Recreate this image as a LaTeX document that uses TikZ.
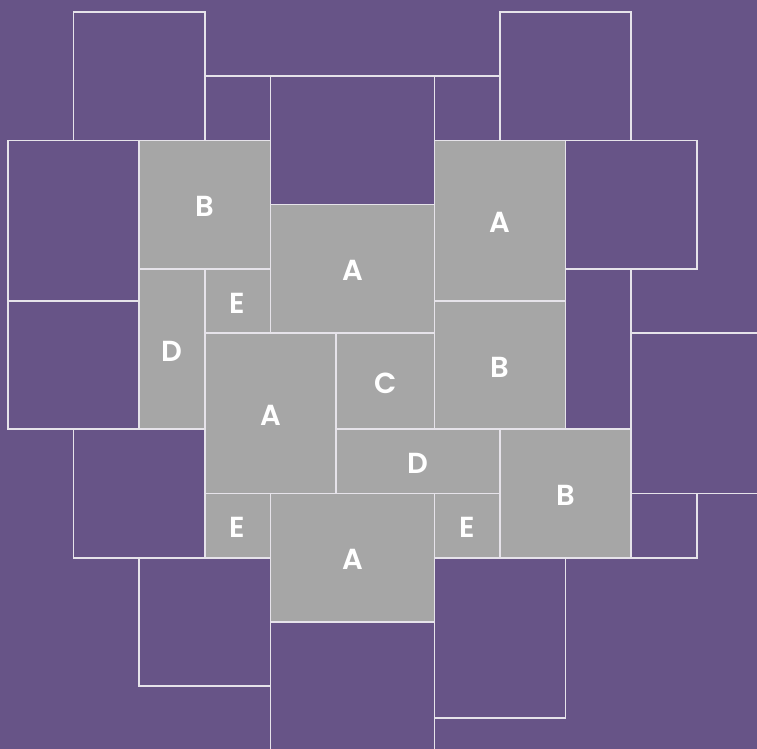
\documentclass[tikz,border=0pt]{standalone}
\usepackage{fontspec}
\newfontfamily\tilefont{Poppins}[UprightFont={* SemiBold}]
\usetikzlibrary{
    fit
}

\definecolor{bg}{HTML}{675487}
\definecolor{piecegrey}{HTML}{A6A6A6}
\definecolor{edge}{HTML}{E6E3EA}

\begin{document}
\begin{tikzpicture}[
    x=65.6pt,
    y=-64.2pt,
    font=\tilefont\fontsize{29}{34}\selectfont,
    tile/.style={
        draw=edge,
        line width=1.7pt,
        inner sep=0pt,
        outer sep=0pt
    },
    piece/.style={tile, fill=piecegrey},
    hole/.style={tile},
    tag/.style={text=white, inner sep=0pt, yshift=-2pt}
]

% ============================================================
% FRAME
% ============================================================

\fill[bg] (-0.122,-0.187) rectangle (11.418,11.480);
\useasboundingbox (-0.122,-0.187) rectangle (11.418,11.480);
\clip (-0.122,-0.187) rectangle (11.418,11.480);

% ============================================================
% EMPTY TILES
% ============================================================

\foreach \xa/\ya/\xb/\yb [count=\n] in {
    1/0/3/2, 3/1/4/2, 4/1/6.5/3, 6.5/1/7.5/2, 7.5/0/9.5/2,
    0/2/2/4.5, 0/4.5/2/6.5, 8.5/2/10.5/4, 8.5/4/9.5/6.5,
    9.5/5/11.5/7.5, 9.5/7.5/10.5/8.5, 1/6.5/3/8.5,
    2/8.5/4/10.5, 4/9.5/6.5/11.5, 6.5/8.5/8.5/11} {
    \node[hole, fit={(\xa,\ya) (\xb,\yb)}] (h\n) {};
}

% ============================================================
% LABELLED PIECES
% ============================================================

\newcommand{\piece}[6]{%
    \node[piece, fit={(#2,#3) (#4,#5)}] (#1) {};
    \node[tag] (#1-tag) at (#1.center) {#6};
}

\piece{b1}{2}{2}{4}{4}{B}
\piece{a1}{4}{3}{6.5}{5}{A}
\piece{a2}{6.5}{2}{8.5}{4.5}{A}
\piece{e1}{3}{4}{4}{5}{E}
\piece{d1}{2}{4}{3}{6.5}{D}
\piece{a3}{3}{5}{5}{7.5}{A}
\piece{c1}{5}{5}{6.5}{6.5}{C}
\piece{b2}{6.5}{4.5}{8.5}{6.5}{B}
\piece{d2}{5}{6.5}{7.5}{7.5}{D}
\piece{b3}{7.5}{6.5}{9.5}{8.5}{B}
\piece{e2}{3}{7.5}{4}{8.5}{E}
\piece{a4}{4}{7.5}{6.5}{9.5}{A}
\piece{e3}{6.5}{7.5}{7.5}{8.5}{E}

\end{tikzpicture}
\end{document}
